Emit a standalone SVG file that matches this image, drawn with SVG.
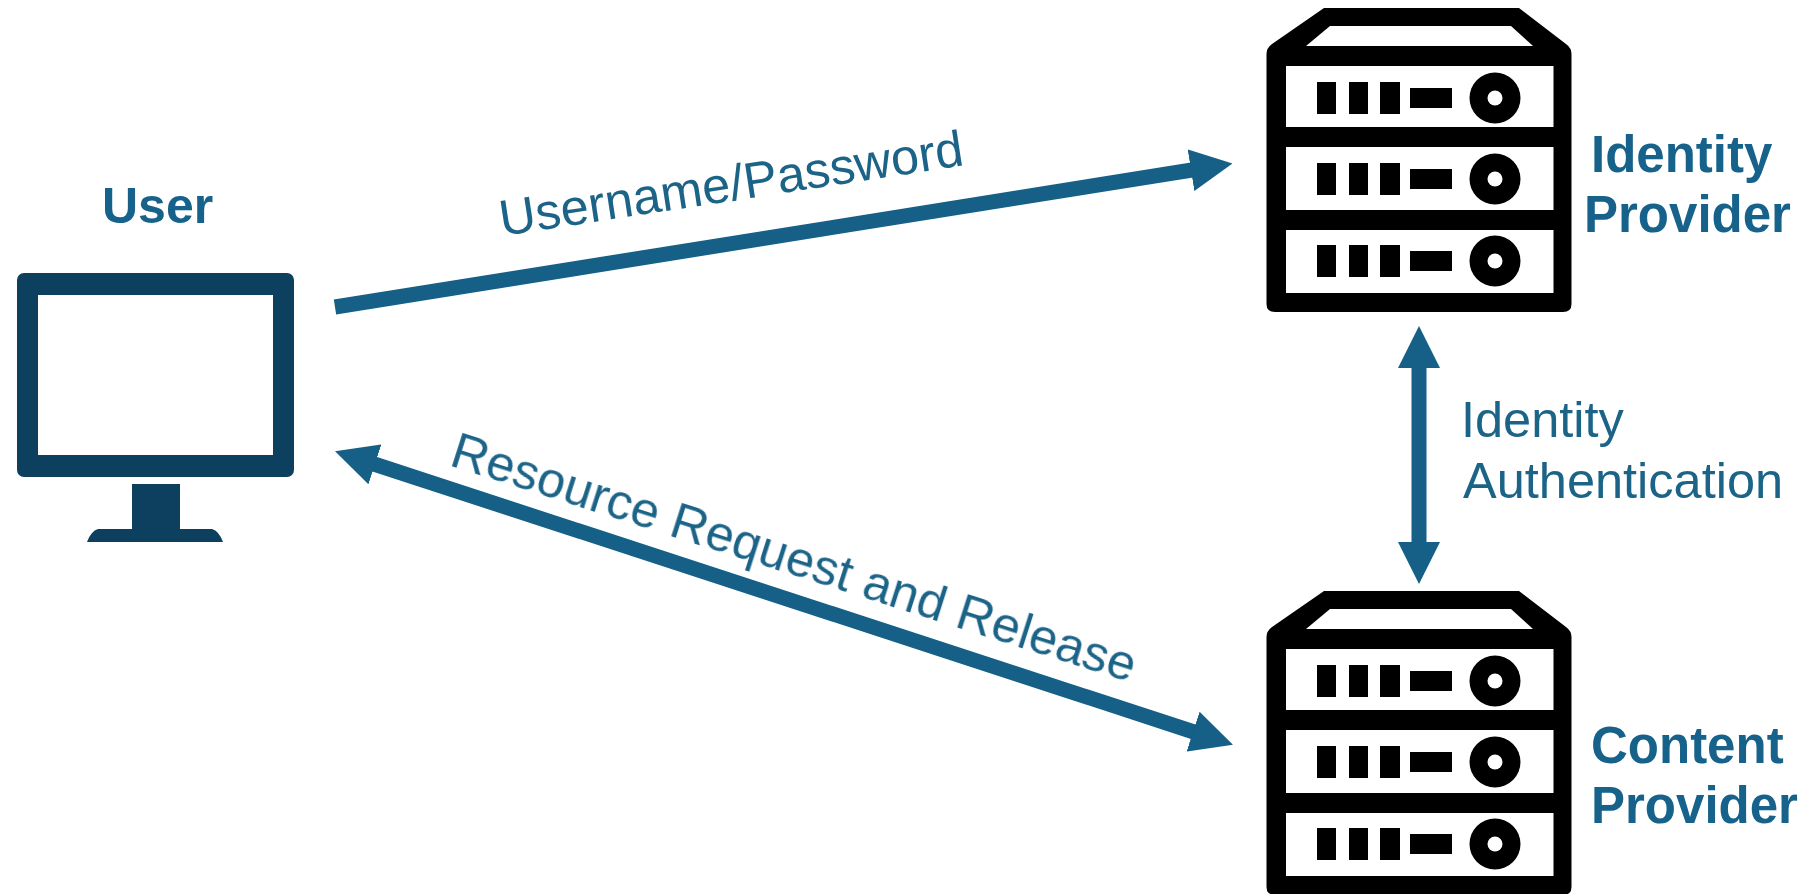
<svg xmlns="http://www.w3.org/2000/svg" width="1802" height="894" viewBox="0 0 1802 894">
<style>
text{font-family:"Liberation Sans",Arial,sans-serif;font-size:50.500px}
.t{fill:#1d6488}
.b{fill:#15628a;font-weight:bold;font-size:51px}
.c{stroke:#125f86;stroke-width:15;fill:none;marker-start:url(#h);marker-end:url(#h)}
.one{marker-start:none}
.k{fill:#000}
.w{fill:#fff}
.m{fill:#0b405e}
.soft{filter:url(#soft)}
</style>
<defs>
<filter id="soft" x="-5%" y="-5%" width="110%" height="110%"><feGaussianBlur stdDeviation="0.700"/></filter>
<marker id="h" markerUnits="userSpaceOnUse" markerWidth="42" markerHeight="42" viewBox="0 0 42 42" refX="1" refY="21" orient="auto-start-reverse"><path d="M0,0L42,21L0,42Z" fill="#125f86"/></marker>
<g id="row"><rect class="k" x="1317" y="-16" width="19" height="32"/><rect class="k" x="1349" y="-16" width="19" height="32"/><rect class="k" x="1380" y="-16" width="20" height="32"/><rect class="k" x="1410" y="-10" width="42" height="20"/><circle class="k" cx="1495" cy="0" r="25.500"/><circle class="w" cx="1495" cy="0" r="7.500"/></g>
<g id="server">
<path class="k" d="M1324,8H1519L1566,44Q1571.500,48 1571.500,54V304Q1571.500,312 1563,312H1275Q1266.500,312 1266.500,304V54Q1266.500,48 1272,44Z"/>
<path class="w" d="M1306,46L1330,26H1511L1533,46Z"/>
<rect class="w" x="1286" y="66" width="267.500" height="61"/>
<rect class="w" x="1286" y="147" width="267.500" height="63"/>
<rect class="w" x="1286" y="230" width="267.500" height="63"/>
<use href="#row" y="98"/><use href="#row" y="179"/><use href="#row" y="261"/>
</g>
</defs>
<rect width="1802" height="894" fill="#fff"/>
<g id="user" class="soft">
<text class="b" x="102" y="223" style="font-size:50px">User</text>
<path class="m" fill-rule="evenodd" d="M24,273H287a7,7 0 0 1 7,7V470a7,7 0 0 1 -7,7H24a7,7 0 0 1 -7,-7V280a7,7 0 0 1 7,-7ZM38,295V455H273V295Z"/>
<path class="m" d="M132,484H180V529H212Q219,531 223,542H87Q91,531 98,529H132Z"/>
</g>
<g id="identity-provider" class="soft">
<use href="#server"/>
<text class="b" x="1591" y="172">Identity</text>
<text class="b" x="1584" y="232">Provider</text>
</g>
<g id="content-provider" class="soft">
<use href="#server" y="583"/>
<text class="b" x="1591" y="763">Content</text>
<text class="b" x="1591" y="823">Provider</text>
</g>
<g id="connectors" class="soft">
<line class="c one" x1="335" y1="307" x2="1192" y2="170"/>
<line class="c" x1="374" y1="464" x2="1194" y2="732"/>
<line class="c" x1="1419" y1="367" x2="1419" y2="543"/>
</g>
<g id="labels" class="soft">
<text class="t" transform="translate(502 236) rotate(-8.700)">Username/Password</text>
<text class="t" transform="translate(448 465) rotate(17.700)">Resource Request and Release</text>
<text class="t" x="1461" y="437">Identity</text>
<text class="t" x="1463" y="498">Authentication</text>
</g>
</svg>
